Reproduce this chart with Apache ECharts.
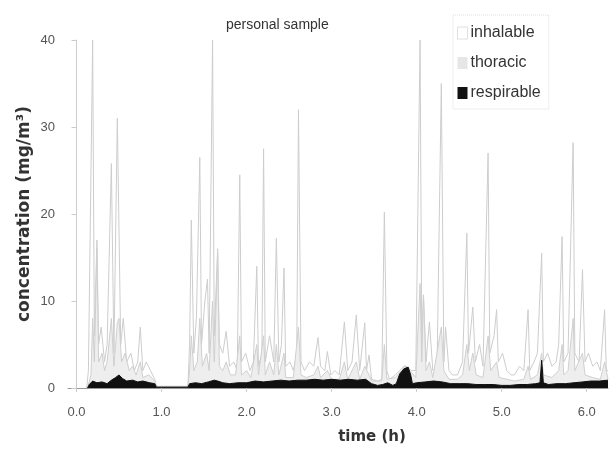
<!DOCTYPE html>
<html><head><meta charset="utf-8">
<script src="https://cdn.jsdelivr.net/npm/echarts@6/dist/echarts.min.js"></script>
<style>html,body{margin:0;padding:0;background:#fff}#c{width:612px;height:455px}</style>
</head><body><div id="c"></div>
<script>
// time (h) / concentration (mg/m3)
const inhalable = [
[0.12,0],[0.14,2],[0.19,40],[0.21,6],[0.24,17],[0.26,5],[0.29,7],[0.33,3],[0.36,5],[0.41,25.8],[0.44,4],[0.48,31],[0.52,5],[0.55,8],[0.59,3],[0.64,4],[0.68,2],[0.72,3],[0.75,7],[0.78,2],[0.82,3],[0.87,2],[0.92,1],[0.94,0.2],
[1.31,0.2],[1.33,5],[1.35,19.3],[1.38,4],[1.41,8],[1.45,26.5],[1.47,5],[1.51,10],[1.54,12.5],[1.56,4],[1.60,40],[1.62,6],[1.66,16],[1.68,5],[1.72,4],[1.76,6.5],[1.80,2.5],[1.85,3],[1.89,2],[1.92,24.5],[1.94,3],[1.99,4],[2.04,2],[2.08,3],[2.12,14],[2.14,2.5],[2.18,4],[2.20,27.5],[2.22,3],[2.27,6],[2.32,3],[2.35,17.2],[2.38,3],[2.41,5],[2.44,13.8],[2.46,2.5],[2.51,3],[2.55,2],[2.59,4],[2.61,32],[2.64,3],[2.68,2],[2.74,3],[2.79,2.5],[2.84,5.8],[2.87,2.5],[2.92,2],[2.95,4.2],[2.99,1.5],[3.04,2],[3.09,1.5],[3.15,7.6],[3.19,2],[3.24,3],[3.29,8.4],[3.33,2],[3.39,7.5],[3.41,2],[3.44,3.8],[3.47,1],[3.54,0.8],[3.59,1],[3.62,20.2],[3.65,2],[3.68,1],[3.75,1.5],[3.86,2.6],[3.94,2],[3.99,2],[4.04,40],[4.06,5],[4.08,10.7],[4.11,3],[4.15,7.6],[4.19,2],[4.24,2.5],[4.29,35],[4.32,3],[4.34,7],[4.38,2],[4.42,1.5],[4.48,1.5],[4.54,3],[4.59,17.8],[4.61,4],[4.66,9.3],[4.69,3],[4.74,5],[4.78,2.5],[4.84,27],[4.86,4],[4.91,6],[4.94,9],[4.96,3],[5.01,4],[5.06,2],[5.11,1.5],[5.15,1.5],[5.21,2.5],[5.26,2],[5.31,9],[5.33,2],[5.38,3],[5.42,4],[5.47,15.5],[5.49,3],[5.54,4],[5.59,2.5],[5.64,3],[5.67,5],[5.71,17.4],[5.73,3],[5.78,4],[5.84,28.2],[5.86,4],[5.91,3],[5.95,13.6],[5.98,3],[6.02,4],[6.07,2.5],[6.12,3],[6.16,2],[6.21,9],[6.23,2],[6.25,2]
];
const thoracic = [
[0.13,0],[0.17,1.5],[0.19,8],[0.21,3],[0.24,16],[0.26,3],[0.30,4],[0.33,2],[0.36,3],[0.41,8],[0.44,2.5],[0.48,7.5],[0.50,8],[0.53,3],[0.57,4],[0.62,2],[0.66,2.5],[0.70,1.5],[0.75,3],[0.78,1.2],[0.85,1.5],[0.92,0.8],[0.94,0.1],
[1.31,0.1],[1.33,2],[1.35,6],[1.38,2],[1.42,3],[1.45,8],[1.48,2.5],[1.53,4],[1.56,2],[1.60,10],[1.62,3],[1.66,15.5],[1.68,2.5],[1.72,2],[1.76,3],[1.81,1.5],[1.87,1.5],[1.92,6],[1.94,1.5],[2.00,2],[2.05,1.2],[2.12,5],[2.14,1.5],[2.20,6],[2.22,1.5],[2.27,3],[2.32,1.5],[2.35,5],[2.38,1.5],[2.44,4],[2.46,1.2],[2.55,1.2],[2.61,7],[2.64,1.5],[2.70,1.2],[2.79,1.5],[2.84,2.5],[2.87,1.2],[2.95,2],[3.00,1],[3.09,1],[3.15,3],[3.19,1],[3.29,3],[3.33,1],[3.39,2.5],[3.44,1.5],[3.47,0.8],[3.59,0.8],[3.62,5],[3.65,1],[3.75,1.2],[3.86,2.5],[3.94,1.8],[3.99,1.2],[4.04,12],[4.06,3],[4.08,10.7],[4.11,2],[4.15,3],[4.19,1.2],[4.29,7],[4.32,2],[4.38,1],[4.48,1],[4.54,1.5],[4.59,5],[4.62,2],[4.66,4],[4.70,1.5],[4.78,1.2],[4.84,6],[4.87,2],[4.94,3],[4.97,1.2],[5.06,1],[5.15,0.8],[5.26,1],[5.31,2.5],[5.34,1],[5.42,1.5],[5.47,4],[5.49,1.5],[5.59,1.2],[5.67,2],[5.71,5],[5.73,1.5],[5.78,2],[5.84,8],[5.86,2],[5.95,4],[5.98,1.5],[6.07,1.2],[6.16,1],[6.21,3],[6.25,1]
];
const respirable = [
[0.13,0],[0.15,0.4],[0.19,0.8],[0.24,0.6],[0.30,0.7],[0.36,0.5],[0.41,0.9],[0.46,1.2],[0.50,1.5],[0.54,1.1],[0.59,0.8],[0.66,0.9],[0.72,0.7],[0.78,0.8],[0.86,0.6],[0.92,0.5],[0.94,0.1],
[1.31,0.1],[1.33,0.5],[1.40,0.6],[1.47,0.5],[1.55,0.7],[1.62,0.9],[1.66,0.8],[1.72,0.6],[1.80,0.5],[1.90,0.6],[2.00,0.6],[2.10,0.8],[2.20,0.7],[2.30,0.8],[2.40,0.9],[2.50,0.8],[2.60,0.9],[2.70,0.9],[2.80,1.0],[2.90,0.9],[3.00,1.0],[3.10,0.9],[3.20,1.0],[3.30,0.9],[3.40,1.0],[3.47,0.5],[3.54,0.3],[3.60,0.4],[3.66,0.6],[3.72,0.3],[3.76,0.5],[3.80,1.6],[3.85,2.2],[3.90,2.4],[3.93,1.5],[3.95,0.5],[4.00,0.6],[4.10,0.7],[4.20,0.8],[4.30,0.7],[4.40,0.5],[4.50,0.5],[4.60,0.5],[4.70,0.4],[4.80,0.4],[4.90,0.4],[5.00,0.3],[5.10,0.3],[5.20,0.4],[5.30,0.4],[5.40,0.5],[5.45,0.6],[5.47,3.2],[5.49,0.6],[5.55,0.4],[5.65,0.5],[5.75,0.5],[5.85,0.6],[5.95,0.7],[6.05,0.8],[6.15,0.8],[6.25,0.9]
];
const xTicks = [0,1,2,3,4,5,6];
const yTicks = [0,10,20,30,40];

const chart = echarts.init(document.getElementById('c'), null, {renderer:'canvas'});
const FONT = 'Liberation Sans, Arial, sans-serif';
chart.setOption({
  animation:false,
  backgroundColor:'#fff',
  grid:{left:68,right:4,top:40,bottom:67,containLabel:false},
  title:{text:'personal sample',left:221,top:13,textStyle:{fontSize:14,fontWeight:'normal',color:'#333',fontFamily:FONT}},
  legend:{
    orient:'vertical',left:453,top:15,padding:[10,8,8,4],itemGap:14,itemWidth:10,itemHeight:12,
    borderColor:'#ddd',borderWidth:1,borderType:'dotted',
    textStyle:{fontSize:16,color:'#333',fontFamily:FONT,padding:[0,0,0,-2]},
    data:[
      {name:'inhalable',icon:'rect',itemStyle:{color:'#fff',borderColor:'#e0e0e0',borderWidth:1}},
      {name:'thoracic',icon:'rect',itemStyle:{color:'#e6e6e6',borderWidth:0}},
      {name:'respirable',icon:'rect',itemStyle:{color:'#111',borderWidth:0}}
    ]
  },
  xAxis:{type:'value',min:-0.1,max:6.25,
    axisLine:{show:true,lineStyle:{color:'#999'}},
    axisTick:{show:true,customValues:xTicks,length:4,lineStyle:{color:'#ccc'}},
    axisLabel:{customValues:xTicks,formatter:v=>v.toFixed(1),fontSize:13,color:'#555',fontFamily:FONT,margin:18},
    splitLine:{show:false}},
  yAxis:{type:'value',min:0,max:40,interval:10,
    axisLine:{show:true,lineStyle:{color:'#ccc'}},
    axisTick:{show:true,length:5,lineStyle:{color:'#ccc'}},
    axisLabel:{fontSize:13,color:'#555',fontFamily:FONT,margin:13},
    splitLine:{show:false}},
  graphic:[
    {type:'text',x:25,y:214,rotation:Math.PI/2,style:{text:'concentration (mg/m³)',font:'bold 17px DejaVu Sans, sans-serif',fill:'#333',align:'center',verticalAlign:'middle'}},
    {type:'text',x:372,y:437,style:{text:'time (h)',font:'bold 15px DejaVu Sans, sans-serif',fill:'#333',align:'center',verticalAlign:'middle'}}
  ],
  series:[
    {name:'inhalable',type:'line',data:inhalable,symbol:'none',z:2,
      lineStyle:{color:'#cdcdcd',width:1},areaStyle:{color:'#fff',opacity:1},itemStyle:{color:'#fff'}},
    {name:'thoracic',type:'line',data:thoracic,symbol:'none',z:3,
      lineStyle:{color:'#cfcfcf',width:1},areaStyle:{color:'#eeeeee',opacity:1},itemStyle:{color:'#e6e6e6'}},
    {name:'respirable',type:'line',data:respirable,symbol:'none',z:4,
      lineStyle:{color:'#111',width:1},areaStyle:{color:'#111',opacity:1},itemStyle:{color:'#111'}}
  ]
});
</script></body></html>
